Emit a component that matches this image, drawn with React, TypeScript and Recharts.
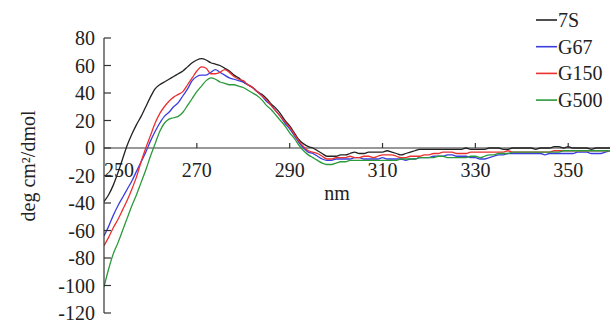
import { LineChart, Line, XAxis, YAxis, ReferenceLine, Legend, Label } from "recharts";

// wavelength (nm)
const wavelengths = [
  250, 251, 252, 253, 254, 255, 256, 257, 258, 259,
  260, 261, 262, 263, 264, 265, 266, 267, 268, 269,
  270, 271, 272, 273, 274, 275, 276, 277, 278, 279,
  280, 281, 282, 283, 284, 285, 286, 287, 288, 289,
  290, 291, 292, 293, 294, 295, 296, 297, 298, 299,
  300, 301, 302, 303, 304, 305, 306, 307, 308, 309,
  310, 311, 312, 313, 314, 315, 316, 317, 318, 319,
  320, 321, 322, 323, 324, 325, 326, 327, 328, 329,
  330, 331, 332, 333, 334, 335, 336, 337, 338, 339,
  340, 341, 342, 343, 344, 345, 346, 347, 348, 349,
  350, 351, 352, 353, 354, 355, 356, 357, 358, 359,
  360,
];

const s7S = [
  -39, -34, -27, -18, -8, 2, 10, 17, 23, 30,
  37, 43, 46, 48, 50, 52, 54, 56, 59, 62,
  64, 65, 64, 62, 61, 60, 58, 56, 53, 51,
  48, 46, 44, 41, 39, 36, 32, 29, 25, 20,
  16, 11, 6, 3, 1, 0, -2, -4, -6, -6,
  -6, -5, -5, -4, -3, -4, -4, -3, -3, -3,
  -3, -2, -3, -4, -5, -4, -3, -2, -1, -1,
  -1, -1, -1, -1, -1, -1, -1, -1, 0, -1,
  -1, -1, -1, 0, 0, 0, -1, -1, 0, 0,
  0, 0, 0, -1, 0, 0, 0, 1, 1, 0,
  1, 0, 0, 0, 0, -1, 0, 0, 0, 0,
  1,
];

const g67 = [
  -64, -57, -49, -42, -36, -30, -24, -17, -10, -3,
  5, 12, 18, 23, 26, 30, 33, 38, 43, 49,
  52, 53, 53, 55, 57, 55, 53, 51, 50, 49,
  48, 46, 44, 41, 38, 34, 31, 27, 23, 18,
  14, 9, 4, 0, -3, -4, -6, -8, -9, -9,
  -8, -8, -8, -8, -7, -7, -8, -8, -8, -8,
  -7, -8, -8, -8, -8, -9, -8, -8, -7, -7,
  -7, -6, -6, -6, -5, -5, -6, -6, -6, -7,
  -7, -8, -8, -7, -6, -5, -5, -4, -4, -4,
  -4, -4, -4, -4, -4, -5, -4, -4, -4, -4,
  -4, -4, -3, -3, -3, -4, -4, -4, -3, -2,
  -2,
];

const g150 = [
  -71, -65, -58, -52, -45, -38, -30, -21, -10, 0,
  9, 18, 25, 30, 34, 37, 39, 41, 46, 51,
  56, 59, 58, 54, 54, 55, 57, 55, 52, 50,
  49, 46, 44, 41, 38, 35, 31, 27, 23, 19,
  15, 10, 5, 1, -2, -3, -4, -6, -8, -8,
  -7, -7, -7, -6, -7, -7, -6, -6, -7, -6,
  -5, -5, -5, -6, -7, -7, -6, -6, -6, -5,
  -5, -4, -4, -3, -3, -3, -4, -4, -4, -3,
  -3, -3, -3, -3, -3, -3, -3, -2, -3, -3,
  -3, -3, -3, -3, -3, -3, -3, -2, -2, -2,
  -2, -2, -2, -2, -2, -2, -2, -2, -2, -2,
  -1,
];

const g500 = [
  -101, -88, -77, -69, -60, -51, -42, -34, -25, -16,
  -6, 3, 12, 18, 21, 22, 23, 26, 31, 36,
  41, 45, 49, 51, 50, 48, 47, 46, 46, 45,
  44, 42, 40, 38, 35, 31, 28, 24, 20, 16,
  11, 7, 2, -2, -5, -7, -9, -11, -12, -12,
  -11, -10, -10, -9, -9, -9, -9, -9, -9, -9,
  -9, -9, -9, -9, -8, -8, -8, -8, -7, -7,
  -7, -7, -6, -6, -7, -7, -7, -7, -7, -6,
  -6, -7, -6, -5, -5, -4, -4, -4, -3, -3,
  -3, -3, -3, -3, -3, -3, -3, -3, -3, -2,
  -2, -2, -2, -2, -2, -2, -2, -2, -2, -2,
  -1,
];

const xTicks = [250, 270, 290, 310, 330, 350];
const yTicks = [-120, -100, -80, -60, -40, -20, 0, 20, 40, 60, 80];

const series = [
  { key: "s7S", name: "7S", color: "#222222" },
  { key: "g67", name: "G67", color: "#3a3ee0" },
  { key: "g150", name: "G150", color: "#ec2f2f" },
  { key: "g500", name: "G500", color: "#2b9a3c" },
];

const data = wavelengths.map((nm, i) => ({
  nm,
  s7S: s7S[i],
  g67: g67[i],
  g150: g150[i],
  g500: g500[i],
}));

const FONT = "'Liberation Serif', 'Times New Roman', serif";
const TOP = 38;
const PLOT_H = 275;
const AXIS_X = 104;
const ZERO_Y = TOP + PLOT_H * (80 / 200);

const XTick = (props: any) => {
  const { x, payload } = props;
  const first = payload.value === 250;
  return (
    <g>
      {!first && <line x1={x} x2={x} y1={ZERO_Y} y2={ZERO_Y - 5} stroke="#333" strokeWidth={1.2} />}
      <text x={x + (first ? 15 : 0)} y={ZERO_Y + 29} textAnchor="middle" fontFamily={FONT} fontSize={20} fill="#222">
        {payload.value}
      </text>
    </g>
  );
};

const YTick = (props: any) => {
  const { y, payload } = props;
  return (
    <g>
      <line x1={AXIS_X} x2={AXIS_X + 7} y1={y} y2={y} stroke="#333" strokeWidth={1.2} />
      <text x={AXIS_X - 9} y={y} dy="0.35em" textAnchor="end" fontFamily={FONT} fontSize={20} fill="#222">
        {payload.value}
      </text>
    </g>
  );
};

const LegendBox = () => (
  <svg width={74} height={110}>
    {series.map((s, i) => (
      <g key={s.key}>
        <line x1={0} x2={21} y1={13 + i * 26.7} y2={13 + i * 26.7} stroke={s.color} strokeWidth={1.6} />
        <text x={22} y={13 + i * 26.7} dy="0.35em" fontFamily={FONT} fontSize={20} fill="#222">
          {s.name}
        </text>
      </g>
    ))}
  </svg>
);

export default function App() {
  return (
    <div style={{ position: "absolute", left: 0, top: 0, width: 610, height: 325, background: "#fff" }}>
      <LineChart width={610} height={325} data={data} margin={{ top: TOP, right: 0, bottom: 11, left: 0 }}>
        <XAxis
          dataKey="nm"
          type="number"
          domain={[250, 359]}
          allowDataOverflow
          ticks={xTicks}
          interval={0}
          axisLine={false}
          tickLine={false}
          height={1}
          tick={<XTick />}
        >
          <Label
            content={() => (
              <text x={337} y={200} textAnchor="middle" fontFamily={FONT} fontSize={20} fill="#222">
                nm
              </text>
            )}
          />
        </XAxis>
        <YAxis
          type="number"
          domain={[-120, 80]}
          ticks={yTicks}
          interval={0}
          width={AXIS_X}
          axisLine={{ stroke: "#333", strokeWidth: 1.2 }}
          tickLine={false}
          tick={<YTick />}
        >
          <Label
            content={() => (
              <text
                x={28}
                y={166}
                transform="rotate(-90, 28, 166)"
                textAnchor="middle"
                dy="0.35em"
                fontFamily={FONT}
                fontSize={20}
                fill="#222"
              >
                deg cm²/dmol
              </text>
            )}
          />
        </YAxis>
        <ReferenceLine y={0} stroke="#333" strokeWidth={1.2} />
        <Legend
          layout="vertical"
          align="center"
          verticalAlign="middle"
          wrapperStyle={{ left: 536, top: 7, width: 74 }}
          content={<LegendBox />}
        />
        {series.map((s) => (
          <Line
            key={s.key}
            dataKey={s.key}
            name={s.name}
            stroke={s.color}
            strokeWidth={1.3}
            dot={false}
            type="monotone"
            isAnimationActive={false}
          />
        ))}
      </LineChart>
    </div>
  );
}
